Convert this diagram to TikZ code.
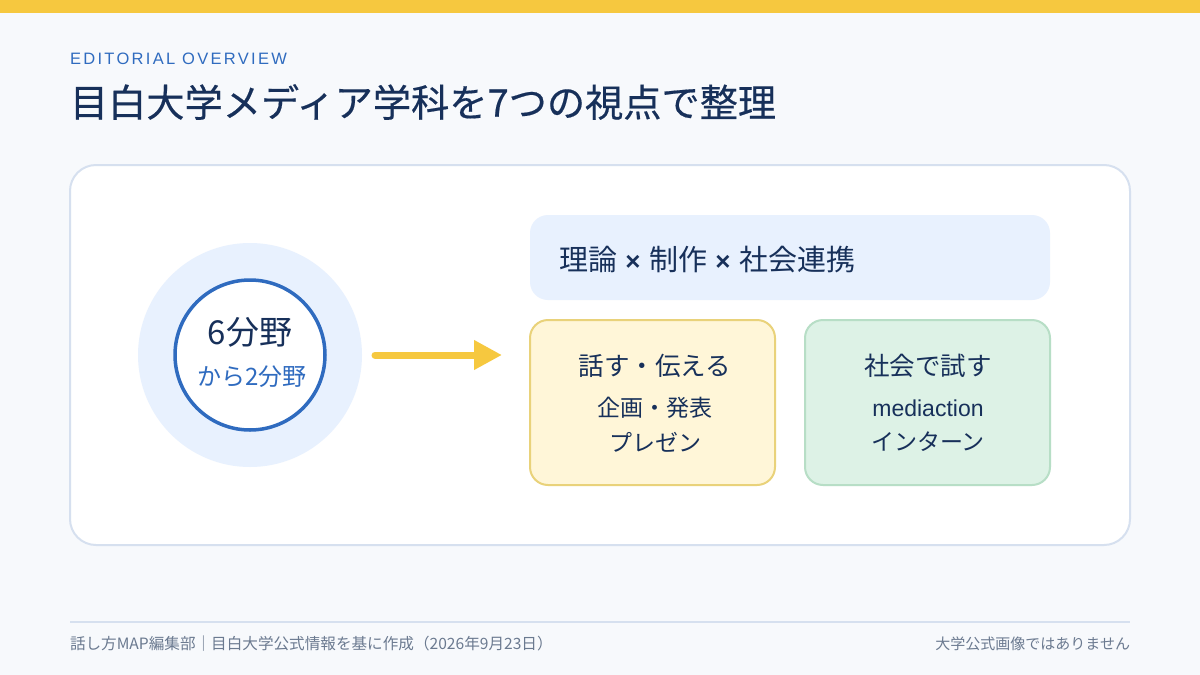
\documentclass[tikz,border=0pt]{standalone}
\usepackage{fontspec}
\setmainfont{Noto Sans CJK JP}
\newfontfamily\titlefont[FakeBold=0.4]{Noto Sans CJK JP}
\newfontfamily\latinsans{Liberation Sans}
\newfontfamily\kickerfont[LetterSpace=14]{Liberation Sans}
\usepackage{xcolor}
\usetikzlibrary{arrows.meta,positioning,calc}

\definecolor{pagebg}{HTML}{F7F9FC}
\definecolor{baryellow}{HTML}{F6C83F}
\definecolor{navy}{HTML}{17305A}
\definecolor{accentblue}{HTML}{2F6BBF}
\definecolor{cardline}{HTML}{D6E0EF}
\definecolor{halofill}{HTML}{E8F1FE}
\definecolor{talkfill}{HTML}{FFF6D8}
\definecolor{talkline}{HTML}{E9D27A}
\definecolor{tryfill}{HTML}{DDF2E6}
\definecolor{tryline}{HTML}{B7DEC6}
\definecolor{footgray}{HTML}{6B7A90}

\newcommand\fsz[1]{\fontsize{#1pt}{#1pt}\selectfont}
\newcommand\bytimes{\makebox[16pt]{\latinsans\bfseries\fsz{13}×}}

\begin{document}
\begin{tikzpicture}[x=0.5pt,y=-0.5pt,
  every node/.style={inner sep=0pt,outer sep=0pt,align=center},
  tile/.style={rounded corners=9pt,line width=1pt,minimum width=122.5pt,minimum height=82.5pt},
  headline/.style={text=navy,font=\fsz{12.75}},
  subline/.style={text=navy,font=\fsz{11.5}}]
  % page and top band
  \fill[pagebg] (0,0) rectangle (1200,675);
  \fill[baryellow] (0,0) rectangle (1200,12.5);
  \node[anchor=west,text=accentblue,font=\kickerfont\fsz{8.25}] (kicker) at (70,59) {EDITORIAL OVERVIEW};
  \node[anchor=west,text=navy,font=\titlefont\fsz{19.1}] (title) at (70,102) {目白大学メディア学科を7つの視点で整理};
  % main card
  \node[draw=cardline,line width=1pt,fill=white,rounded corners=13pt,minimum width=530pt,minimum height=190pt] (panel) at (600,355) {};
  % circle on the left
  \node[circle,fill=halofill,minimum size=112pt] (halo) at (250,355) {};
  \node[circle,draw=accentblue,line width=1.75pt,fill=white,minimum size=75pt] (ring) at (250,355) {};
  \node[text=navy,font=\fsz{16.5}] (sixfields) at (250,332) {6分野};
  \node[text=accentblue,font=\fsz{12}] (twofields) at (252,377) {から2分野};
  % banner and tiles
  \node[fill=halofill,rounded corners=9pt,minimum width=260pt,minimum height=42.5pt] (banner) at (790,257.5) {};
  \node[anchor=west,text=navy,font=\fsz{14.5}] (bannertext) at (559,260) {理論\bytimes 制作\bytimes 社会連携};
  \node[tile,fill=talkfill,draw=talkline] (talk) at (652.5,402.5) {};
  \node[tile,fill=tryfill,draw=tryline] (try) at (927.5,402.5) {};
  \node[headline] (talkhead) at (655,366) {話す・伝える};
  \node[subline] (talkplan) at (655,408) {企画・発表};
  \node[subline] (talkpres) at (655,442) {プレゼン};
  \node[headline] (tryhead) at (928,366) {社会で試す};
  \node[subline,font=\latinsans\fsz{11.5}] (trymedia) at (928,408) {mediaction};
  \node[subline] (tryintern) at (928,442) {インターン};
  % arrow from circle to tiles
  \draw[baryellow,line width=3.5pt,line cap=round,shorten <=6.5pt,shorten >=14pt,
    -{Triangle[length=14pt,width=14pt]}] (halo.east) -- (halo.east -| talk.west);
  % footer
  \coordinate (footl) at (70,622);
  \coordinate (footr) at (1130,622);
  \draw[cardline,line width=1pt] (footl) -- (footr);
  \node[anchor=west,text=footgray,font=\fsz{7.8}] (credit) at (70,644) {話し方MAP編集部｜目白大学公式情報を基に作成（2026年9月23日）};
  \node[anchor=east,text=footgray,font=\fsz{7.5}] (notice) at (1130,644) {大学公式画像ではありません};
\end{tikzpicture}
\end{document}
